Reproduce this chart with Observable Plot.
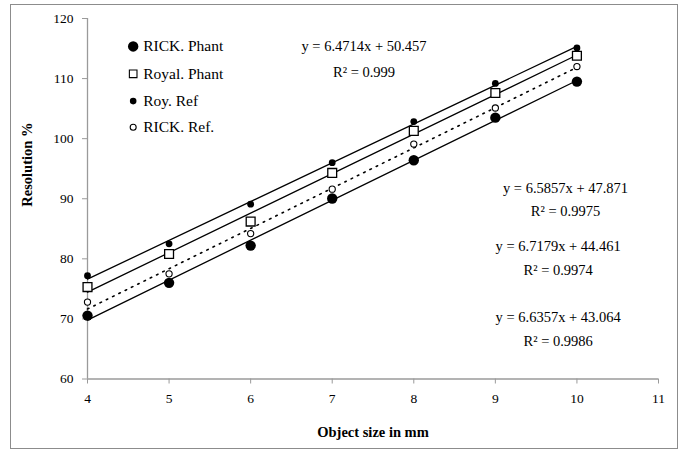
<!DOCTYPE html>
<html>
<head>
<meta charset="utf-8">
<script src="https://cdn.jsdelivr.net/npm/d3@7"></script>
<script src="https://cdn.jsdelivr.net/npm/@observablehq/plot@0.6"></script>
<style>
  html, body { margin: 0; padding: 0; background: #fff; }
  #wrap { position: relative; width: 684px; height: 452px; }
  #frame { position: absolute; left: 10px; top: 4px; width: 666px; height: 443px; border: 1px solid #8c8c8c; pointer-events: none; }
  svg, svg text { font-family: "Liberation Serif", "Times New Roman", serif !important; }
</style>
</head>
<body>
<div id="wrap"><div id="frame"></div></div>
<script>
const sizes = [4, 5, 6, 7, 8, 9, 10];
const rickPhant = [70.55, 76.0, 82.2, 90.05, 96.4, 103.5, 109.5];
const royalPhant = [75.3, 80.8, 86.2, 94.3, 101.3, 107.6, 113.8];
const royRef = [77.2, 82.5, 89.1, 96.0, 102.85, 109.2, 115.1];
const rickRef = [72.8, 77.5, 84.2, 91.6, 99.1, 105.1, 112.0];
const seriesNames = ["RICK. Phant", "Royal. Phant", "Roy. Ref", "RICK. Ref."];
const xTicks = [4, 5, 6, 7, 8, 9, 10, 11];
const yTicks = [60, 70, 80, 90, 100, 110, 120];
const eqLines = ["y = 6.4714x + 50.457", "y = 6.5857x + 47.871", "y = 6.7179x + 44.461", "y = 6.6357x + 43.064"];
const r2Lines = ["R² = 0.999", "R² = 0.9975", "R² = 0.9974", "R² = 0.9986"];

const toRows = (vals, name) => sizes.map((x, i) => ({x, y: vals[i], series: name}));
const dRickPhant = toRows(rickPhant, seriesNames[0]);
const dRoyalPhant = toRows(royalPhant, seriesNames[1]);
const dRoyRef = toRows(royRef, seriesNames[2]);
const dRickRef = toRows(rickRef, seriesNames[3]);

// annotation anchors (data space)
const eqPos = [{x: 7.39, y: 115.35, ry: 111.0}, {x: 9.86, y: 91.7, ry: 87.9}, {x: 9.77, y: 82.1, ry: 78.0}, {x: 9.77, y: 70.2, ry: 66.3}];
const eqData = eqPos.map((p, i) => ({x: p.x, y: p.y, t: eqLines[i]}));
const r2Data = eqPos.map((p, i) => ({x: p.x, y: p.ry, t: r2Lines[i]}));
const legX = 4.56;
const legY = [115.35, 110.8, 106.25, 101.9];
const leg = seriesNames.map((n, i) => ({x: legX, y: legY[i], name: n}));

const ff = "Liberation Serif, Times New Roman, serif";
const axisColor = "#9a9a9a";
const chart = Plot.plot({
  width: 684,
  height: 452,
  marginLeft: 87,
  marginRight: 26,
  marginTop: 18,
  marginBottom: 73.5,
  style: {fontFamily: ff, fontSize: "13.5px", color: "#000", background: "transparent"},
  x: {domain: [4, 11]},
  y: {domain: [60, 120]},
  marks: [
    Plot.ruleX([4], {stroke: axisColor, strokeWidth: 1.3}),
    Plot.ruleY([60], {stroke: axisColor, strokeWidth: 1.3}),
    Plot.axisX({ticks: xTicks, tickFormat: "d", tickSize: 5, tickPadding: 9, stroke: axisColor, fill: "#000", fontSize: 13.5, fontFamily: ff, label: null}),
    Plot.axisY({ticks: yTicks, tickFormat: "d", tickSize: 5, tickPadding: 9, stroke: axisColor, fill: "#000", fontSize: 13.5, fontFamily: ff, label: null}),
    Plot.text(["Object size in mm"], {frameAnchor: "bottom", dy: 58, fontWeight: "bold", fontSize: 14.5, fontFamily: ff, fill: "#000"}),
    Plot.text(["Resolution %"], {frameAnchor: "left", dx: -60, dy: 8, rotate: -90, fontWeight: "bold", fontSize: 14.5, fontFamily: ff, fill: "#000"}),
    Plot.linearRegressionY(dRoyRef, {x: "x", y: "y", ci: 0, stroke: "#000", strokeWidth: 1.3}),
    Plot.linearRegressionY(dRoyalPhant, {x: "x", y: "y", ci: 0, stroke: "#000", strokeWidth: 1.3}),
    Plot.linearRegressionY(dRickRef, {x: "x", y: "y", ci: 0, stroke: "#000", strokeWidth: 1.6, strokeDasharray: "1.6,5.4"}),
    Plot.linearRegressionY(dRickPhant, {x: "x", y: "y", ci: 0, stroke: "#000", strokeWidth: 1.3}),
    Plot.dot(dRickPhant, {x: "x", y: "y", r: 5.2, fill: "#000", stroke: "none"}),
    Plot.dot(dRoyalPhant, {x: "x", y: "y", r: 5, symbol: "square", fill: "#fff", stroke: "#000", strokeWidth: 1.3}),
    Plot.dot(dRoyRef, {x: "x", y: "y", r: 3.4, fill: "#000", stroke: "none"}),
    Plot.dot(dRickRef, {x: "x", y: "y", r: 3.1, fill: "#fff", stroke: "#000", strokeWidth: 1.1}),
    Plot.text(eqData, {x: "x", y: "y", text: "t", fontSize: 14.5, fontFamily: ff, fill: "#000"}),
    Plot.text(r2Data, {x: "x", y: "y", text: "t", fontSize: 14.5, fontFamily: ff, fill: "#000"}),
    Plot.dot([leg[0]], {x: "x", y: "y", r: 5.2, fill: "#000", stroke: "none"}),
    Plot.dot([leg[1]], {x: "x", y: "y", r: 4.3, symbol: "square", fill: "#fff", stroke: "#000", strokeWidth: 1.1}),
    Plot.dot([leg[2]], {x: "x", y: "y", r: 3.3, fill: "#000", stroke: "none"}),
    Plot.dot([leg[3]], {x: "x", y: "y", r: 3, fill: "#fff", stroke: "#000", strokeWidth: 1.1}),
    Plot.text(leg, {x: "x", y: "y", text: "name", dx: 10, textAnchor: "start", fontSize: 15.5, fontFamily: ff, fill: "#000"})
  ]
});
document.getElementById("wrap").prepend(chart);
</script>
</body>
</html>
